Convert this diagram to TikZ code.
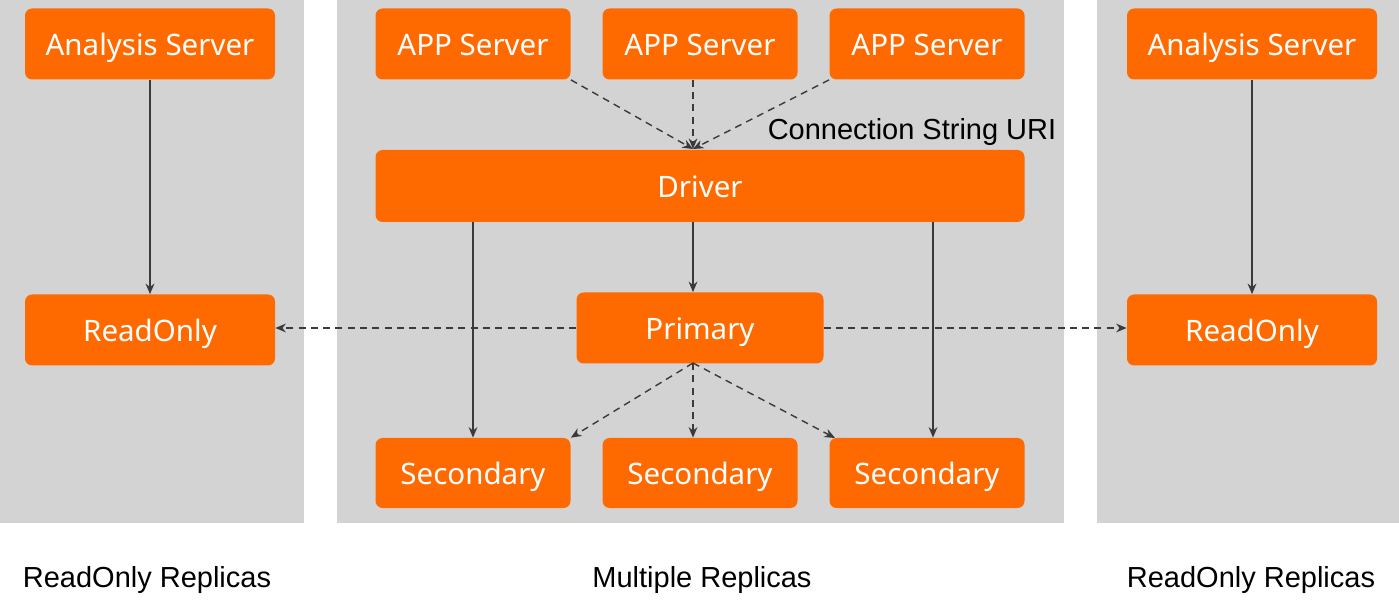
\documentclass[tikz,border=0pt]{standalone}
\usepackage{fontspec}
\setmainfont{Liberation Sans}
\newfontfamily\boxfont{Noto Sans}
\usetikzlibrary{positioning}
\usetikzlibrary{arrows.meta}
\definecolor{boxorange}{HTML}{FF6A00}
\definecolor{panelgray}{HTML}{D3D3D3}
\definecolor{linegray}{HTML}{3A3A3A}
\tikzset{
	box/.style={fill=boxorange, rounded corners=4pt, text=white, inner sep=0pt,
		text height=15pt, text depth=2pt,
		font=\boxfont\fontsize{16.8}{19}\selectfont},
	link/.style={draw=linegray, line width=0.8pt, -{Stealth[length=6pt,width=5pt]}},
	dlink/.style={link, dash pattern=on 4pt off 3pt},
	caption/.style={font=\fontsize{16.5}{19}\selectfont}
}
\begin{document}
\begin{tikzpicture}[x=0.02cm, y=-0.02cm]
	\useasboundingbox (0,0) rectangle (1399,614);
	
	% panels
	\fill[panelgray] (0,0) rectangle (304,523);
	\fill[panelgray] (337,0) rectangle (1064,523);
	\fill[panelgray] (1097,0) rectangle (1399,523);
	
	% middle column
	\node[box, minimum width=195*0.02cm, minimum height=71*0.02cm] (app1) at (473,44) {APP Server};
	\node[box, minimum width=195*0.02cm, minimum height=71*0.02cm] (app2) at (700,44) {APP Server};
	\node[box, minimum width=195*0.02cm, minimum height=71*0.02cm] (app3) at (927,44) {APP Server};
	\node[box, minimum width=649*0.02cm, minimum height=72*0.02cm] (driver) at (700,186) {Driver};
	\node[box, minimum width=247*0.02cm, minimum height=71*0.02cm] (primary) at (700,328) {Primary};
	\node[box, minimum width=195*0.02cm, minimum height=70*0.02cm] (sec1) at (473,473) {Secondary};
	\node[box, minimum width=195*0.02cm, minimum height=70*0.02cm] (sec2) at (700,473) {Secondary};
	\node[box, minimum width=195*0.02cm, minimum height=70*0.02cm] (sec3) at (927,473) {Secondary};
	
	% side columns
	\node[box, minimum width=250*0.02cm, minimum height=71*0.02cm] (anaL) at (150,44) {Analysis Server};
	\node[box, minimum width=250*0.02cm, minimum height=71*0.02cm] (roL) at (150,330) {ReadOnly};
	\node[box, minimum width=250*0.02cm, minimum height=71*0.02cm] (anaR) at (1252,44) {Analysis Server};
	\node[box, minimum width=250*0.02cm, minimum height=71*0.02cm] (roR) at (1252,330) {ReadOnly};
	
	% captions
	\node[caption] (uri) at (912,132) {Connection String URI};
	\node[caption] (capL) at (147,580) {ReadOnly Replicas};
	\node[caption] (capM) at (702,580) {Multiple Replicas};
	\node[caption] (capR) at (1251,580) {ReadOnly Replicas};
	
	% app servers to driver
	\coordinate (join) at (693,149);
	\draw[dlink] (app1.south east) -- (join);
	\draw[dlink] (app2.south -| join) -- (join);
	\draw[dlink] (app3.south west) -- (join);
	
	% driver to replicas
	\draw[link] (driver.south -| 693,0) -- (primary.north -| 693,0);
	\draw[link] (driver.south -| sec1) -- (sec1.north);
	\draw[link] (driver.south -| 933,0) -- (sec3.north -| 933,0);
	
	% primary to secondaries
	\coordinate (pfoot) at (693,363);
	\draw[dlink] (pfoot) -- (sec1.north east);
	\draw[dlink] (pfoot) -- (sec2.north -| pfoot);
	\draw[dlink] (pfoot) -- (835,438);
	
	% primary to readonly
	\draw[dlink] (primary.west) -- (roL.east |- primary.west);
	\draw[dlink] (primary.east) -- (roR.west |- primary.east);
	
	% analysis to readonly
	\draw[link] (anaL) -- (roL);
	\draw[link] (anaR) -- (roR);
\end{tikzpicture}
\end{document}
